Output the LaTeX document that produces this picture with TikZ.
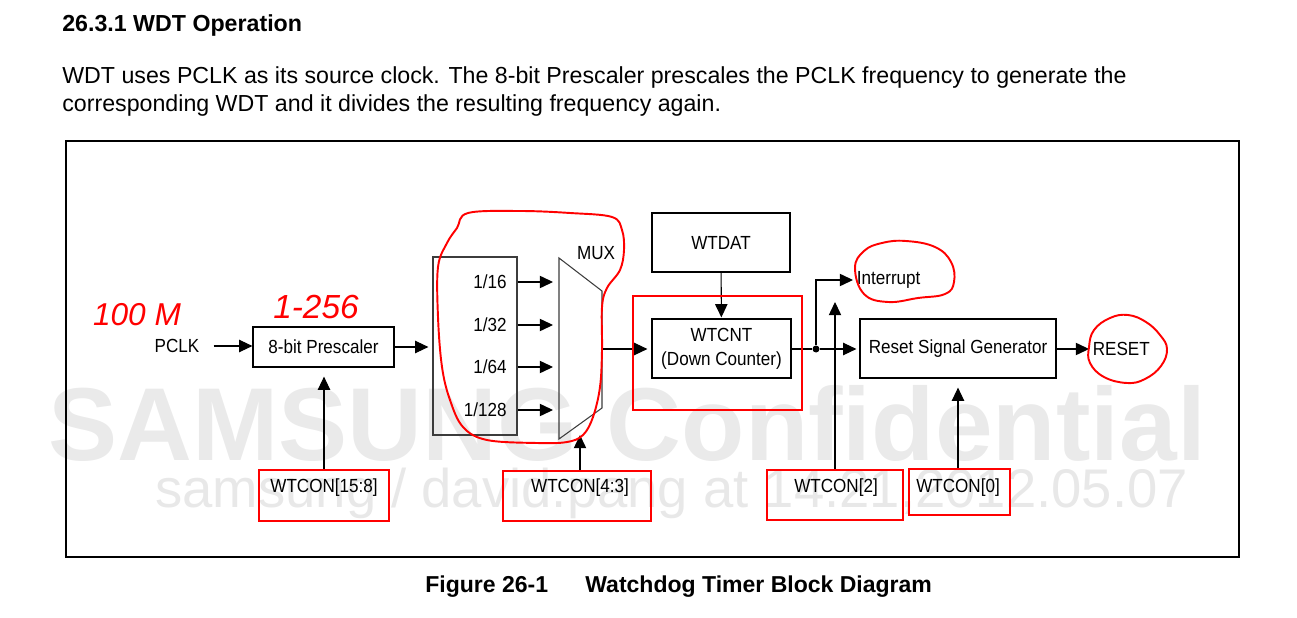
\documentclass[tikz,border=0pt]{standalone}
\usepackage{fontspec}
\setmainfont{Liberation Sans}
\newfontfamily\diagfont{Liberation Sans}[FakeStretch=0.9]
\usetikzlibrary{arrows.meta,positioning}
\definecolor{wdtred}{RGB}{255,0,0}
\definecolor{wmgray}{RGB}{234,234,234}
\definecolor{wmgray2}{RGB}{232,232,232}
\definecolor{muxgray}{RGB}{60,60,60}

\begin{document}
\begin{tikzpicture}[x=0.02cm, y=-0.02cm,
    blockbox/.style={draw, line width=0.7pt, minimum width=#1, minimum height=1.18cm,
                     inner sep=0pt, align=center, font=\diagfont\fontsize{10.8}{13.6}\selectfont},
    blockbox/.default=2.78cm,
    lbl/.style={inner sep=0pt, font=\diagfont\fontsize{10.8}{13}\selectfont},
    ctrl/.style={lbl, minimum height=0.72cm},
    arr/.style={-{Triangle[length=7.5pt,width=7pt]}, line width=0.6pt},
    dot/.style={circle, fill, inner sep=0pt, minimum size=0.14cm},
    redink/.style={draw=wdtred, line width=1.1pt},
    bodytext/.style={anchor=base west, inner sep=0pt, font=\fontsize{13.2}{16}\selectfont}]
\useasboundingbox (0,0) rectangle (1297,618);
% Text above the figure
\node[bodytext, font=\bfseries\fontsize{13.2}{16}\selectfont] (title) at (62,32) {26.3.1 WDT Operation};
\node[bodytext] (par1) at (62,84) {WDT uses PCLK as its source clock. The 8-bit Prescaler prescales the PCLK frequency to generate the};
\node[bodytext] (par2) at (62,112) {corresponding WDT and it divides the resulting frequency again.};
% Watermark
\node[anchor=base west, inner sep=0pt, text=wmgray, font=\bfseries\fontsize{59}{59}\selectfont] (wm1) at (48,460) {SAMSUNG Confidential};
\node[anchor=base west, inner sep=0pt, text=wmgray2, font=\fontsize{31}{31}\selectfont] (wm2) at (155,507) {samsung / david.pang at 14.21,2012.05.07};
% Frame
\draw[line width=1.1pt] (66,141) rectangle (1239,557);
% Clock and prescaler
\node[lbl] (pclk) at (177,346) {PCLK};
\node[blockbox=2.82cm, minimum height=0.8cm] (pre) at (323.5,347) {8-bit Prescaler};
\draw[arr, shorten <=0.28cm] (pclk.east) -- (pclk.east -| pre.west);
% Divider and MUX
\node[draw=muxgray, line width=0.7pt, minimum width=1.68cm, minimum height=3.56cm, inner sep=0pt] (div) at (475,346) {};
\node[lbl, anchor=east] (l16) at (507,282) {1/16};
\node[lbl, anchor=east] (l32) at (507,325) {1/32};
\node[lbl, anchor=east] (l64) at (507,367) {1/64};
\node[lbl, anchor=east] (l128) at (507,410) {1/128};
\coordinate (muxa) at (559,258);
\coordinate (muxb) at (602,291);
\coordinate (muxc) at (602,408);
\coordinate (muxd) at (559,439);
\coordinate (muxout) at (602,349);
\coordinate (muxsel) at (580,435);
\draw[draw=muxgray, line width=0.6pt] (muxa) -- (muxb) -- (muxc) -- (muxd) -- cycle;
\node[lbl] (muxlbl) at (596,253) {MUX};
\draw[arr, shorten >=0.08cm] (pre.east) -- (pre.east -| div.west);
\foreach \d in {l16,l32,l64,l128}
  \draw[arr, shorten >=0.12cm] (\d -| div.east) -- (\d -| muxa);
% Counter
\node[blockbox=2.76cm] (wtdat) at (721,242.5) {WTDAT};
\node[blockbox] (wtcnt) at (721.5,348.5) {WTCNT\\(Down Counter)};
\draw[arr, shorten >=0.08cm] (muxout) -- (muxout -| wtcnt.west);
\draw[arr, shorten >=0.02cm] (wtdat) -- (wtcnt);
% Outputs
\node[dot] (split) at (816,349) {};
\node[blockbox=3.92cm] (rsg) at (958,348.5) {Reset Signal Generator};
\node[lbl, anchor=west, inner sep=2pt] (intr) at (853,280) {Interrupt};
\node[lbl, anchor=west, inner sep=2pt] (rst) at (1089,349) {RESET};
\draw[line width=0.6pt] (wtcnt.east |- split) -- (split);
\draw[arr, shorten >=0.06cm] (split) -- (split -| rsg.west);
\draw[arr] (split) |- (intr.west);
\draw[arr] (rsg.east |- rst) -- (rst.west);
% Control bits
\node[ctrl] (c158) at (324,488) {WTCON[15:8]};
\node[ctrl] (c43) at (580,488) {WTCON[4:3]};
\node[ctrl] (c2) at (836,488) {WTCON[2]};
\node[ctrl] (c0) at (958,488) {WTCON[0]};
\coordinate (c2end) at (835,302);
\draw[arr, shorten >=0.18cm] (c158.north) -- (c158.north |- pre.south);
\draw[arr] (c43.north) -- (muxsel);
\draw[arr] (c2.north -| c2end) -- (c2end);
\draw[arr, shorten >=0.18cm] (c0.north) -- (c0.north |- rsg.south);
% Red marks
\draw[redink] (259,470) rectangle (389,521);
\draw[redink] (503,471) rectangle (651,521);
\draw[redink] (767,470) rectangle (903,520);
\draw[redink] (909,469) rectangle (1010,515);
\draw[redink] (633,296) rectangle (802,410);
\draw[redink] plot[smooth cycle, tension=0.6] coordinates {(468,213) (520,211) (570,213) (612,217)
  (622,230) (624,250) (620,270) (607,288) (602,307) (602,350) (600,387) (593,417) (583,435)
  (567,442) (537,443) (487,440) (463,427) (450,400) (442,367) (438,317) (438,267) (447,243) (457,228)};
\draw[redink] plot[smooth cycle, tension=0.7] coordinates {(855,268) (864,251) (882,243) (906,241)
  (935,247) (951,262) (954,282) (945,294) (918,298) (888,302) (864,294)};
\draw[redink] plot[smooth cycle, tension=0.7] coordinates {(1094,330) (1110,318) (1128,315) (1146,322)
  (1160,335) (1167,349) (1161,366) (1145,379) (1127,383) (1104,377) (1090,363) (1089,347)};
\node[text=wdtred, inner sep=0pt, font=\itshape\fontsize{18}{18}\selectfont] (hw1) at (137,315) {100 M};
\node[text=wdtred, inner sep=0pt, font=\itshape\fontsize{19}{19}\selectfont] (hw2) at (316,307) {1-256};
% Caption
\node[bodytext, font=\bfseries\fontsize{13.1}{16}\selectfont] (fignum) at (425,592) {Figure 26-1};
\node[bodytext, font=\bfseries\fontsize{13.1}{16}\selectfont] (figtitle) at (585,592) {Watchdog Timer Block Diagram};
\end{tikzpicture}
\end{document}
